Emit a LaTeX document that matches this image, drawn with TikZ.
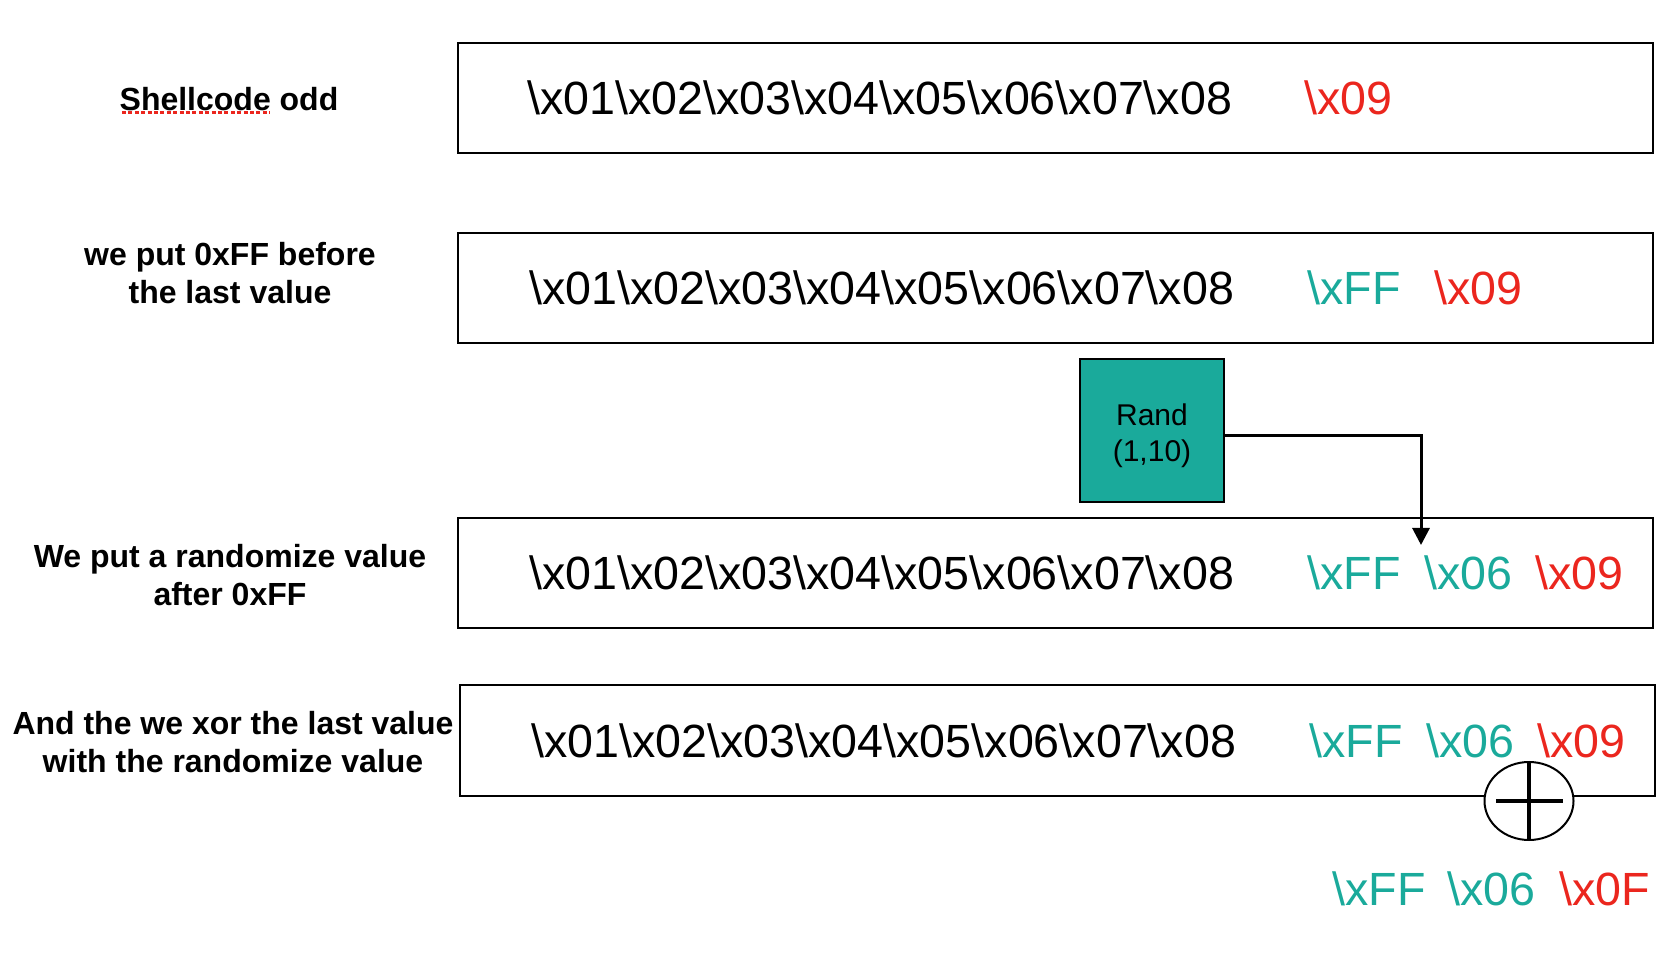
\documentclass[tikz,border=0pt]{standalone}
\usepackage{fontspec}
\setmainfont{Liberation Sans}
\usetikzlibrary{arrows.meta,shapes.geometric}
\definecolor{tealc}{RGB}{26,170,155}
\definecolor{redc}{RGB}{235,38,30}
\newcommand{\bx}[1]{\textbackslash x#1}
\newcommand{\seqtxt}{\bx{01}\bx{02}\bx{03}\bx{04}\bx{05}\bx{06}\bx{07}\bx{08}}
\begin{document}
\begin{tikzpicture}[x=0.5pt,y=-0.5pt,
  box/.style={draw, line width=1pt, minimum width=597.5pt, minimum height=55pt, inner sep=0pt},
  big/.style={font=\fontsize{23.3}{28}\selectfont, inner sep=0pt, anchor=base west},
  lbl/.style={font=\fontsize{16}{19}\selectfont\bfseries, align=center, inner sep=0pt},
  arr/.style={line width=1.5pt, -{Triangle[width=8.5pt,length=8.5pt]}}]
\useasboundingbox (0,0) rectangle (1671,956);
% labels
\node[lbl] (l1) at (229,99) {Shellcode odd};
\node[lbl] (l2) at (230,273) {we put 0xFF before\\the last value};
\node[lbl] (l3) at (230,575) {We put a randomize value\\after 0xFF};
\node[lbl] (l4) at (233,742) {And the we xor the last value\\with the randomize value};
\coordinate (ul1) at (122,112.5);
\coordinate (ul2) at (270,112.5);
\draw[redc, line width=1.3pt, dash pattern=on 2pt off 1.2pt] (ul1) -- (ul2);
% boxes
\node[box] (b1) at (1055,98) {};
\node[box] (b2) at (1055,288) {};
\node[box] (b3) at (1055,573.5) {};
\node[box] (b4) at (1057.5,740.5) {};
% row 1
\node[big] (t1) at (527,114.5) {\seqtxt};
\node[big, text=redc] (t1r) at (1304,114.5) {\bx{09}};
% row 2
\node[big] (t2) at (529,304.5) {\seqtxt};
\node[big, text=tealc] (t2f) at (1307,304.5) {\bx{FF}};
\node[big, text=redc] (t2r) at (1434,304.5) {\bx{09}};
% rand box
\node[draw, line width=1pt, fill=tealc, minimum width=72pt, minimum height=71.5pt, inner sep=0pt] (rand) at (1152,430.5) {};
\node[font=\fontsize{15}{18}\selectfont, align=center, inner sep=0pt] (randt) at (1152,436) {Rand\\(1,10)};
\coordinate (aend) at (1421,545);
\draw[arr] ([yshift=-2.75pt]rand.east) -| (aend);
% row 3
\node[big] (t3) at (529,590) {\seqtxt};
\node[big, text=tealc] (t3f) at (1307,590) {\bx{FF}};
\node[big, text=tealc] (t3s) at (1424,590) {\bx{06}};
\node[big, text=redc] (t3r) at (1535,590) {\bx{09}};
% row 4
\node[big] (t4) at (531,757.5) {\seqtxt};
\node[big, text=tealc] (t4f) at (1309,757.5) {\bx{FF}};
\node[big, text=tealc] (t4s) at (1426,757.5) {\bx{06}};
\node[big, text=redc] (t4r) at (1537,757.5) {\bx{09}};
% xor
\node[draw, ellipse, line width=1pt, fill=white, minimum width=44.5pt, minimum height=39pt, inner sep=0pt] (xor) at (1529,801) {};
\draw[line width=2pt] (xor.north) -- (xor.south);
\draw[line width=2pt] ([xshift=-16.5pt]xor.center) -- ([xshift=17pt]xor.center);
% bottom
\node[big, text=tealc] (t5f) at (1332,905) {\bx{FF}};
\node[big, text=tealc] (t5s) at (1447,905) {\bx{06}};
\node[big, text=redc] (t5r) at (1559,905) {\bx{0F}};
\end{tikzpicture}
\end{document}
